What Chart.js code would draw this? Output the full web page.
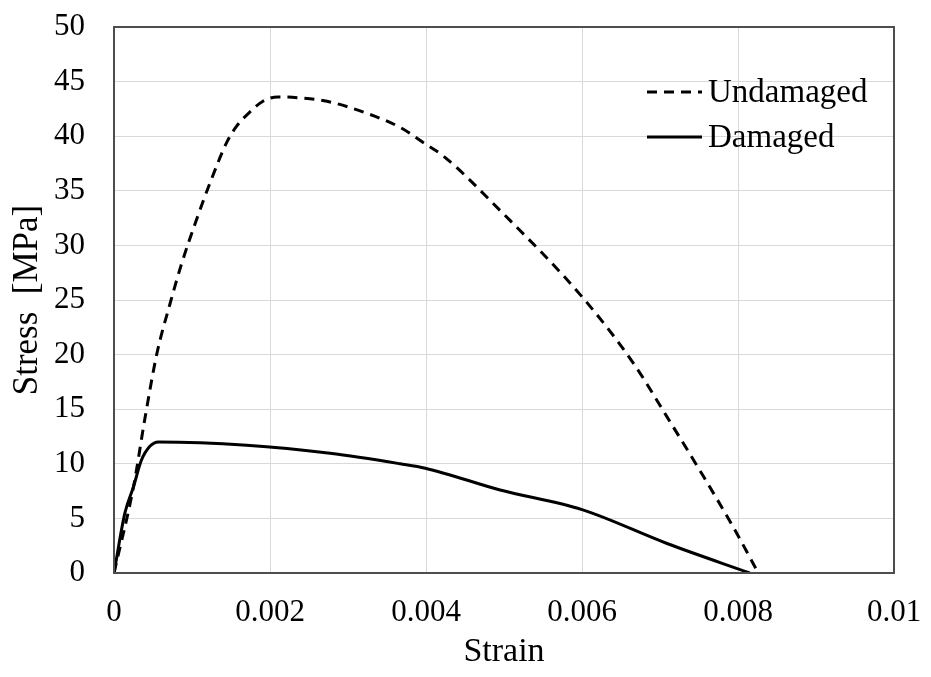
<!DOCTYPE html>
<html><head><meta charset="utf-8">
<script src="https://cdn.jsdelivr.net/npm/chart.js@4/dist/chart.umd.min.js"></script>
<style>html,body{margin:0;padding:0;background:#fff;} #wrap{width:931px;height:677px;}</style>
</head><body><div id="wrap"><canvas id="c" width="931" height="677"></canvas></div>
<script>
const seriesNames = ['Undamaged', 'Damaged'];
const undamagedStrain = [0, 0.00025, 0.0004, 0.00055, 0.00072, 0.00087, 0.00106, 0.00123, 0.00145, 0.00157, 0.00174, 0.00191, 0.0021, 0.0024, 0.00273, 0.00324, 0.00367, 0.00399, 0.00422, 0.00495, 0.0060, 0.00666, 0.00709, 0.00751, 0.00794, 0.00826];
const undamagedStress = [0, 7.9, 14.3, 20.1, 24.7, 28.4, 32.4, 35.7, 39.5, 40.9, 42.2, 43.2, 43.6, 43.5, 43.2, 42.1, 40.8, 39.3, 38.2, 33.2, 25.3, 19.2, 14.3, 9.4, 4.2, 0];
const damagedStrain = [0, 0.00014, 0.00025, 0.00035, 0.00046, 0.00057, 0.0017, 0.00277, 0.00367, 0.00399, 0.00495, 0.0060, 0.00709, 0.00815];
const damagedStress = [0, 5.5, 7.9, 10.3, 11.6, 12.0, 11.7, 10.96, 10.0, 9.6, 7.6, 5.8, 2.7, 0];
const xTickLabels = ['0', '0.002', '0.004', '0.006', '0.008', '0.01'];
const yTickLabels = ['0', '5', '10', '15', '20', '25', '30', '35', '40', '45', '50'];
const xTitle = 'Strain';
const yTitle = 'Stress  [MPa]';

const FONT = "'Liberation Serif', 'Times New Roman', serif";
const toPts = (xs, ys) => xs.map((x, i) => ({x: x, y: ys[i]}));

const boxPlugin = {
  id: 'box',
  afterDatasetsDraw(chart) {
    const {ctx, chartArea: a} = chart;
    ctx.save();
    ctx.strokeStyle = '#4d4d4d';
    ctx.lineWidth = 2;
    ctx.strokeRect(a.left, a.top, a.right - a.left, a.bottom - a.top);
    ctx.restore();
  }
};

const legendPlugin = {
  id: 'innerLegend',
  afterDraw(chart) {
    const {ctx, chartArea: a} = chart;
    ctx.save();
    ctx.font = "33px " + FONT;
    ctx.textBaseline = 'middle';
    ctx.textAlign = 'left';
    chart.data.datasets.forEach((ds, i) => {
      const y = a.top + 65 + i * 45;
      ctx.strokeStyle = ds.borderColor;
      ctx.lineWidth = 3;
      ctx.setLineDash(ds.borderDash || []);
      ctx.beginPath();
      ctx.moveTo(a.right - 247, y);
      ctx.lineTo(a.right - 192, y);
      ctx.stroke();
      ctx.setLineDash([]);
      ctx.fillStyle = '#000';
      ctx.fillText(ds.label, a.right - 186, y + 1);
    });
    ctx.restore();
  }
};

new Chart(document.getElementById('c'), {
  type: 'scatter',
  data: {
    datasets: [
      {
        label: seriesNames[0],
        data: toPts(undamagedStrain, undamagedStress),
        showLine: true, borderColor: '#000', borderWidth: 3, borderDash: [10, 7],
        pointRadius: 0, cubicInterpolationMode: 'monotone', fill: false
      },
      {
        label: seriesNames[1],
        data: toPts(damagedStrain, damagedStress),
        showLine: true, borderColor: '#000', borderWidth: 3,
        pointRadius: 0, cubicInterpolationMode: 'monotone', fill: false
      }
    ]
  },
  options: {
    responsive: false,
    animation: false,
    devicePixelRatio: 1,
    layout: {padding: {left: 0, top: 27, right: 37, bottom: 0}},
    plugins: {legend: {display: false}, tooltip: {enabled: false}},
    scales: {
      x: {
        type: 'linear', min: 0, max: 0.01,
        afterFit: s => { s.height = 104; s.paddingLeft = 0; s.paddingRight = 0; },
        afterBuildTicks: s => { s.ticks = xTickLabels.map(v => ({value: parseFloat(v)})); },
        ticks: {
          padding: 21, color: '#000', font: {family: FONT, size: 31},
          maxRotation: 0, autoSkip: false,
          callback: (v, i) => xTickLabels[i]
        },
        grid: {color: '#d9d9d9', lineWidth: 1, drawTicks: false},
        border: {display: false},
        title: {display: true, text: xTitle, color: '#000', font: {family: FONT, size: 34}, padding: {top: 0, bottom: 5}}
      },
      y: {
        type: 'linear', min: 0, max: 50,
        afterFit: s => { s.width = 114; s.paddingTop = 0; s.paddingBottom = 0; },
        afterBuildTicks: s => { s.ticks = yTickLabels.map(v => ({value: parseFloat(v)})); },
        ticks: {
          padding: 29, color: '#000', font: {family: FONT, size: 31},
          autoSkip: false,
          callback: (v, i) => yTickLabels[i]
        },
        grid: {color: '#d9d9d9', lineWidth: 1, drawTicks: false},
        border: {display: false},
        title: {display: true, text: yTitle, color: '#000', font: {family: FONT, size: 35}, padding: {top: 7, bottom: 0}}
      }
    }
  },
  plugins: [boxPlugin, legendPlugin]
});
</script>
</body></html>
